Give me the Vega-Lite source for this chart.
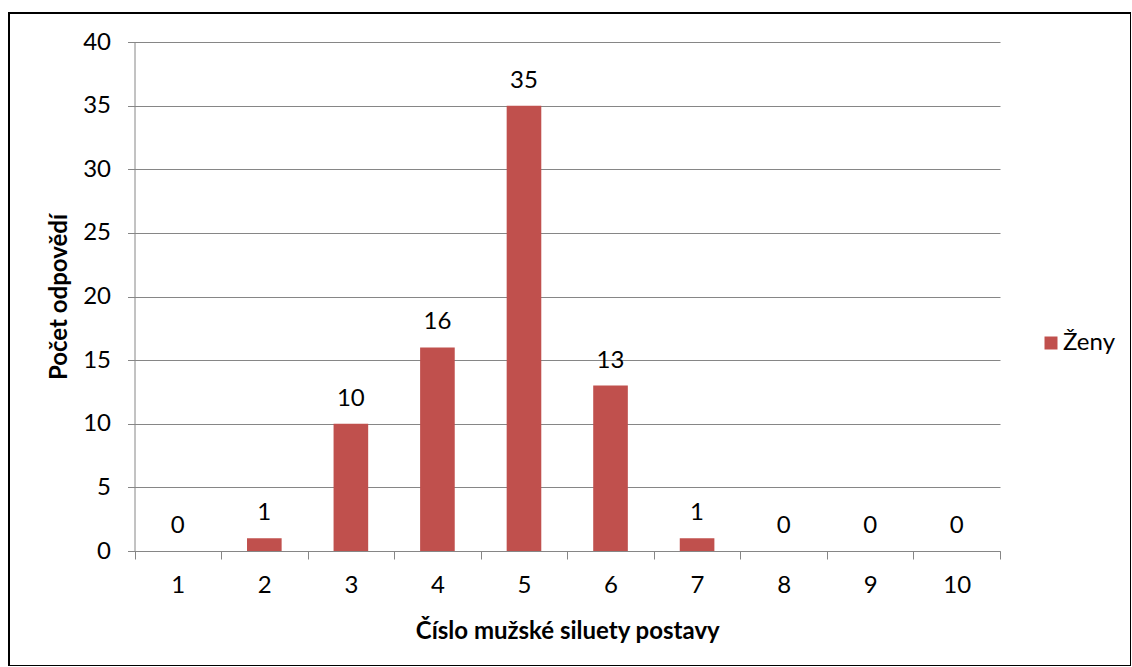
{
  "$schema": "https://vega.github.io/schema/vega-lite/v6.json",
  "autosize": {"type": "none"},
  "width": 1122,
  "height": 653,
  "padding": {"left": 9, "top": 13, "right": 0, "bottom": 0},
  "background": "white",
  "config": {
    "view": {"stroke": "#000000", "strokeWidth": 2},
    "font": "Lato",
    "axis": {
      "domainColor": "#868686",
      "tickColor": "#868686",
      "gridColor": "#868686",
      "labelColor": "#000000",
      "titleColor": "#000000",
      "labelFont": "Lato",
      "titleFont": "Lato",
      "labelFontSize": 24,
      "titleFontSize": 24,
      "titleFontWeight": "bold",
      "domainWidth": 1,
      "tickWidth": 1,
      "gridWidth": 1
    }
  },
  "data": {
    "values": [
      {"cislo": 1, "pocet": 0, "serie": "Ženy"},
      {"cislo": 2, "pocet": 1, "serie": "Ženy"},
      {"cislo": 3, "pocet": 10, "serie": "Ženy"},
      {"cislo": 4, "pocet": 16, "serie": "Ženy"},
      {"cislo": 5, "pocet": 35, "serie": "Ženy"},
      {"cislo": 6, "pocet": 13, "serie": "Ženy"},
      {"cislo": 7, "pocet": 1, "serie": "Ženy"},
      {"cislo": 8, "pocet": 0, "serie": "Ženy"},
      {"cislo": 9, "pocet": 0, "serie": "Ženy"},
      {"cislo": 10, "pocet": 0, "serie": "Ženy"}
    ]
  },
  "encoding": {
    "x": {
      "field": "cislo",
      "type": "ordinal",
      "scale": {"range": [125.5, 991], "paddingInner": 0, "paddingOuter": 0},
      "axis": {
        "title": "Číslo mužské siluety postavy",
        "offset": -115,
        "tickBand": "extent",
        "tickSize": 8,
        "labelAngle": 0,
        "labelPadding": 14,
        "titlePadding": 22,
        "grid": false
      }
    },
    "y": {
      "field": "pocet",
      "type": "quantitative",
      "scale": {"domain": [0, 40], "range": [538, 29], "nice": false},
      "axis": {
        "title": "Počet odpovědí",
        "offset": -125.5,
        "values": [0, 5, 10, 15, 20, 25, 30, 35, 40],
        "tickSize": 7,
        "labelPadding": 17,
        "titlePadding": 11,
        "grid": true
      }
    }
  },
  "layer": [
    {
      "mark": {"type": "bar", "width": {"band": 0.4}},
      "encoding": {
        "color": {
          "field": "serie",
          "type": "nominal",
          "scale": {"range": ["#C0504D"]},
          "legend": {
            "orient": "none",
            "legendX": 1030,
            "legendY": 318,
            "title": null,
            "symbolType": "square",
            "symbolSize": 169,
            "symbolStrokeWidth": 0,
            "labelFontSize": 24,
            "labelFont": "Lato",
            "labelColor": "#000000",
            "labelOffset": 0
          }
        }
      }
    },
    {
      "mark": {"type": "text", "dy": -18, "baseline": "alphabetic", "fontSize": 24, "font": "Lato", "color": "#000000"},
      "encoding": {"text": {"field": "pocet", "type": "quantitative"}}
    }
  ]
}
